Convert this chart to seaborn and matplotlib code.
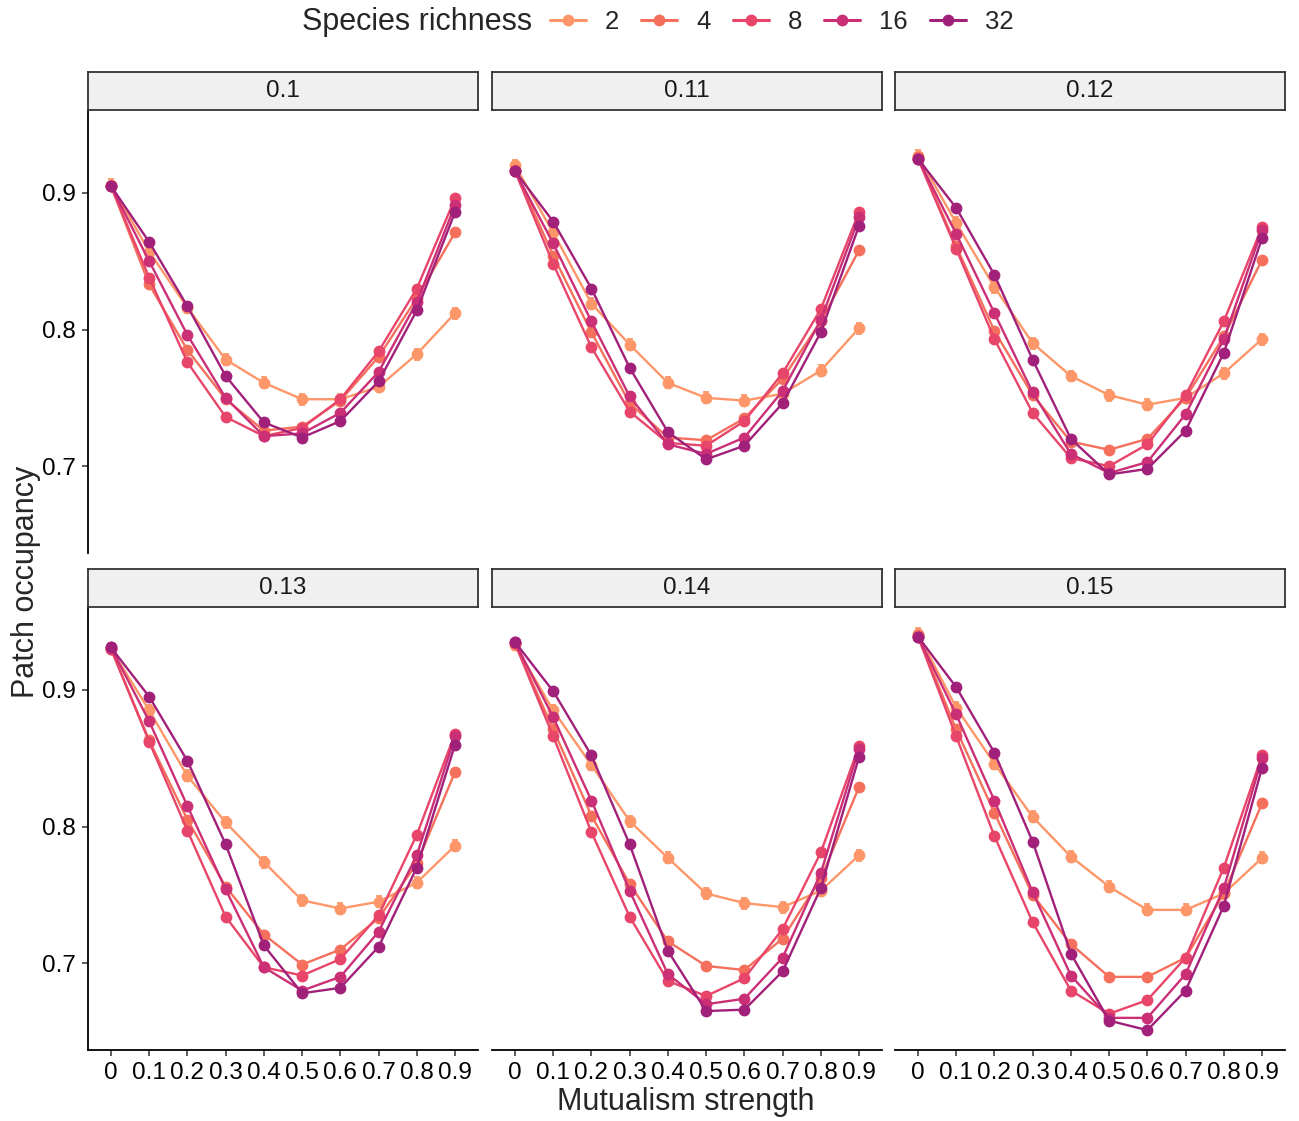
import matplotlib
matplotlib.use("Agg")
import matplotlib.pyplot as plt
import seaborn as sns
import pandas as pd
from matplotlib.lines import Line2D

# ---------------- data ----------------
panels = ["0.1", "0.11", "0.12", "0.13", "0.14", "0.15"]
mutualism = [0.0, 0.1, 0.2, 0.3, 0.4, 0.5, 0.6, 0.7, 0.8, 0.9]
mutualism_labels = ["0", "0.1", "0.2", "0.3", "0.4", "0.5", "0.6", "0.7", "0.8", "0.9"]
richness = [2, 4, 8, 16, 32]
colors = ["#FD9668", "#F5705C", "#E8456A", "#CB2F76", "#A1207A"]

occ_010 = {
    2:  [0.906, 0.857, 0.816, 0.778, 0.761, 0.749, 0.749, 0.758, 0.782, 0.812],
    4:  [0.905, 0.833, 0.785, 0.749, 0.726, 0.729, 0.748, 0.780, 0.823, 0.871],
    8:  [0.905, 0.838, 0.776, 0.736, 0.722, 0.728, 0.749, 0.784, 0.830, 0.896],
    16: [0.905, 0.850, 0.796, 0.750, 0.722, 0.724, 0.739, 0.769, 0.820, 0.891],
    32: [0.905, 0.864, 0.817, 0.766, 0.732, 0.721, 0.733, 0.762, 0.814, 0.886],
}
occ_011 = {
    2:  [0.920, 0.871, 0.819, 0.789, 0.761, 0.750, 0.748, 0.753, 0.770, 0.801],
    4:  [0.917, 0.854, 0.798, 0.746, 0.721, 0.719, 0.735, 0.764, 0.806, 0.858],
    8:  [0.916, 0.848, 0.787, 0.740, 0.717, 0.715, 0.733, 0.768, 0.815, 0.886],
    16: [0.916, 0.863, 0.806, 0.751, 0.716, 0.709, 0.721, 0.755, 0.807, 0.882],
    32: [0.916, 0.879, 0.830, 0.772, 0.725, 0.705, 0.715, 0.746, 0.798, 0.876],
}
occ_012 = {
    2:  [0.927, 0.878, 0.831, 0.790, 0.766, 0.752, 0.745, 0.750, 0.768, 0.793],
    4:  [0.926, 0.861, 0.799, 0.752, 0.718, 0.712, 0.720, 0.750, 0.795, 0.851],
    8:  [0.925, 0.859, 0.793, 0.739, 0.706, 0.700, 0.716, 0.752, 0.806, 0.875],
    16: [0.925, 0.870, 0.812, 0.754, 0.709, 0.695, 0.703, 0.738, 0.793, 0.873],
    32: [0.925, 0.889, 0.840, 0.778, 0.720, 0.694, 0.698, 0.726, 0.783, 0.867],
}
occ_013 = {
    2:  [0.930, 0.885, 0.837, 0.803, 0.774, 0.746, 0.740, 0.745, 0.759, 0.786],
    4:  [0.930, 0.863, 0.805, 0.756, 0.721, 0.699, 0.710, 0.733, 0.773, 0.840],
    8:  [0.930, 0.862, 0.797, 0.734, 0.697, 0.691, 0.703, 0.735, 0.794, 0.868],
    16: [0.931, 0.877, 0.815, 0.754, 0.697, 0.680, 0.690, 0.723, 0.779, 0.866],
    32: [0.931, 0.895, 0.848, 0.787, 0.713, 0.678, 0.682, 0.712, 0.770, 0.860],
}
occ_014 = {
    2:  [0.933, 0.885, 0.845, 0.804, 0.777, 0.751, 0.744, 0.741, 0.753, 0.779],
    4:  [0.934, 0.871, 0.808, 0.758, 0.716, 0.698, 0.695, 0.718, 0.762, 0.829],
    8:  [0.934, 0.866, 0.796, 0.734, 0.687, 0.676, 0.689, 0.725, 0.781, 0.859],
    16: [0.935, 0.880, 0.819, 0.753, 0.692, 0.670, 0.674, 0.704, 0.766, 0.857],
    32: [0.935, 0.899, 0.852, 0.787, 0.709, 0.665, 0.666, 0.694, 0.755, 0.851],
}
occ_015 = {
    2:  [0.941, 0.887, 0.846, 0.807, 0.778, 0.756, 0.739, 0.739, 0.751, 0.777],
    4:  [0.940, 0.871, 0.810, 0.750, 0.714, 0.690, 0.690, 0.704, 0.751, 0.817],
    8:  [0.939, 0.866, 0.793, 0.730, 0.680, 0.663, 0.673, 0.704, 0.770, 0.852],
    16: [0.939, 0.882, 0.819, 0.752, 0.691, 0.660, 0.660, 0.692, 0.755, 0.850],
    32: [0.939, 0.902, 0.854, 0.789, 0.707, 0.658, 0.651, 0.680, 0.742, 0.843],
}
# approximate standard error per richness level
se_by_richness = {2: 0.004, 4: 0.002, 8: 0.0015, 16: 0.0015, 32: 0.0015}

panel_data = dict(zip(panels, [occ_010, occ_011, occ_012, occ_013, occ_014, occ_015]))

rows = []
for p in panels:
    for r in richness:
        for m, v in zip(mutualism, panel_data[p][r]):
            rows.append({"panel": p, "richness": r, "mutualism": m,
                         "occupancy": v, "se": se_by_richness[r]})
df = pd.DataFrame(rows)

# ---------------- figure ----------------
sns.set_theme(style="white")
plt.rcParams["font.family"] = ["Liberation Sans", "DejaVu Sans"]

W, H = 1299, 1121
fig = plt.figure(figsize=(W / 100, H / 100), dpi=100)
palette = dict(zip(richness, colors))

col_left = [88, 492, 895]
panel_w = 390
row_span = [(110, 553), (607, 1050)]
strip_h = 38

for i, p in enumerate(panels):
    r_i, c_i = divmod(i, 3)
    left = col_left[c_i]
    top, bottom = row_span[r_i]
    ax = fig.add_axes([left / W, 1 - bottom / H, panel_w / W, (bottom - top) / H])
    dfp = df[df.panel == p]
    for r in richness:
        d = dfp[dfp.richness == r]
        ax.errorbar(d.mutualism, d.occupancy, yerr=d.se, fmt="none",
                    ecolor=palette[r], elinewidth=1.3, capsize=2.5, capthick=1.3, zorder=1)
    sns.lineplot(data=dfp, x="mutualism", y="occupancy", hue="richness",
                 hue_order=richness, palette=palette, marker="o", markersize=8.5,
                 markeredgewidth=0, linewidth=1.7, errorbar=None, legend=False,
                 ax=ax, sort=False)
    ax.set_xlim(-0.06, 0.96)
    ax.set_ylim(0.6365, 0.9606)
    ax.set_xlabel("")
    ax.set_ylabel("")
    ax.set_facecolor("white")
    for s in ["top", "right"]:
        ax.spines[s].set_visible(False)
    ax.spines["left"].set_visible(c_i == 0)
    ax.spines["bottom"].set_visible(r_i == 1)
    for s in ["left", "bottom"]:
        ax.spines[s].set_color("black")
        ax.spines[s].set_linewidth(1.3)
    ax.tick_params(axis="both", length=4, width=1.1, color="#333333",
                   labelsize=17.5, labelcolor="black", pad=4.5)
    if c_i == 0:
        ax.set_yticks([0.7, 0.8, 0.9])
        ax.set_yticklabels(["0.7", "0.8", "0.9"])
        ax.tick_params(axis="y", left=True)
    else:
        ax.set_yticks([])
    if r_i == 1:
        ax.set_xticks(mutualism)
        ax.set_xticklabels(mutualism_labels)
        ax.tick_params(axis="x", bottom=True)
    else:
        ax.set_xticks([])

    sax = fig.add_axes([left / W, 1 - top / H, panel_w / W, strip_h / H])
    sax.set_facecolor("#F0F0F0")
    sax.set_xticks([])
    sax.set_yticks([])
    for s in sax.spines.values():
        s.set_visible(True)
        s.set_color("#333333")
        s.set_linewidth(1.3)
    sax.text(0.5, 0.5, p, ha="center", va="center", fontsize=17.5,
             color="#1A1A1A", transform=sax.transAxes)

# axis titles
fig.text(686 / W, 1 - 1102 / H, "Mutualism strength", ha="center", va="center", fontsize=22)
fig.text(26 / W, 1 - 582 / H, "Patch occupancy", ha="center", va="center",
         rotation=90, fontsize=22)

# legend
fig.text(302 / W, 1 - 22 / H, "Species richness", ha="left", va="center", fontsize=22)
handles = [Line2D([0], [0], color=palette[r], marker="o", markersize=8.5,
                  markeredgewidth=0, linewidth=2.2) for r in richness]
fig.legend(handles, [str(r) for r in richness], loc="center left",
           bbox_to_anchor=(550 / W, 1 - 22 / H), ncol=5, frameon=False,
           fontsize=18.5, handlelength=1.4, handletextpad=0.75,
           columnspacing=0.85, borderaxespad=0, borderpad=0)

fig.savefig("out.png", dpi=100)
